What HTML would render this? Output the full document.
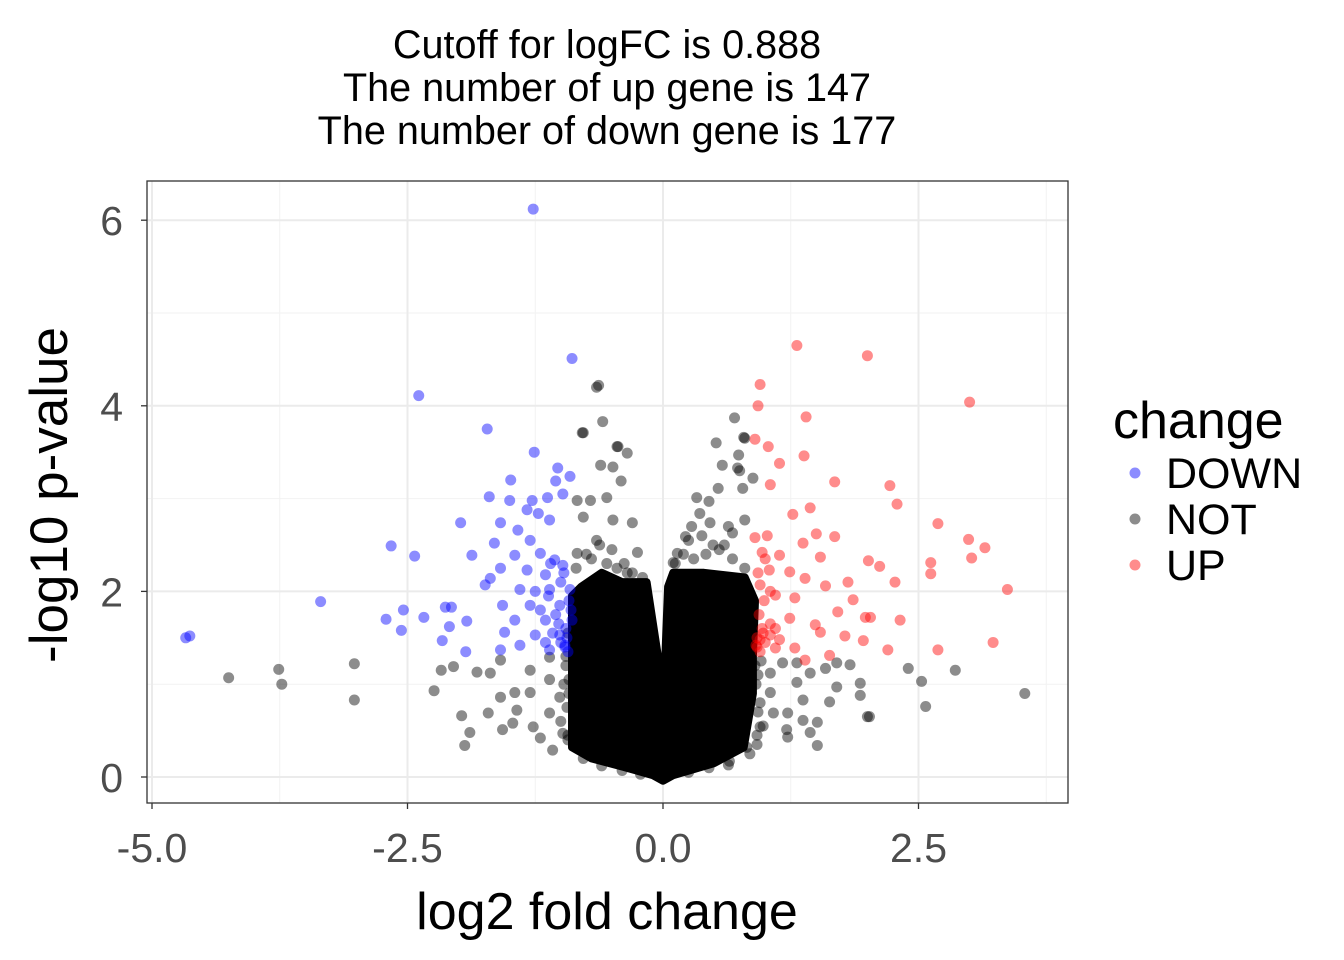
<!DOCTYPE html>
<html><head><meta charset="utf-8"><style>
html,body{margin:0;padding:0;background:#fff;}
svg{display:block;font-family:"Liberation Sans",Arial,sans-serif;}
</style></head><body>
<svg id="chart" width="1344" height="960" viewBox="0 0 1344 960" xmlns="http://www.w3.org/2000/svg">
<rect width="1344" height="960" fill="#fff"/>
<g font-size="39.6" text-anchor="middle" fill="#000">
<text x="607" y="58">Cutoff for logFC is 0.888</text>
<text x="607" y="101">The number of up gene is 147</text>
<text x="607" y="144">The number of down gene is 177</text>
</g>
<g id="grid"></g>
<g id="core"></g>
<g id="pts"></g>
<rect x="147" y="181" width="921" height="622" fill="none" stroke="#333" stroke-width="1.3"/>
<g id="axes"></g>
<text x="607" y="929" font-size="52" text-anchor="middle">log2 fold change</text>
<text transform="translate(67,495) rotate(-90)" font-size="53" text-anchor="middle">-log10 p-value</text>
<g>
<text x="1113" y="438" font-size="52">change</text>
<g><circle cx="1135" cy="473" r="5.5" fill="#0000ff" fill-opacity="0.45"/><text x="1166" y="488" font-size="43">DOWN</text></g>
<g><circle cx="1135" cy="519" r="5.5" fill="#000" fill-opacity="0.45"/><text x="1166" y="534" font-size="43">NOT</text></g>
<g><circle cx="1135" cy="565" r="5.5" fill="#ff0000" fill-opacity="0.45"/><text x="1166" y="580" font-size="43">UP</text></g>
</g>
</svg>
<script>
const xTicks=[-5.0,-2.5,0.0,2.5];
const xTickLabels=["-5.0","-2.5","0.0","2.5"];
const xMinor=[-3.75,-1.25,1.25,3.75];
const yTicks=[0,2,4,6];
const yTickLabels=["0","2","4","6"];
const yMinor=[1,3,5];
const downX=[-1.27,-0.89,-2.39,-1.72,-1.26,-1.03,-0.91,-1.49,-1.05,-1.70,-1.50,-1.28,-1.13,-0.98,-1.33,-1.22,-1.11,-1.98,-1.59,-1.42,-1.65,-1.30,-2.66,-2.43,-1.87,-1.45,-1.20,-1.06,-1.59,-1.69,-1.33,-1.15,-0.98,-1.74,-1.40,-1.11,-0.91,-3.35,-2.13,-2.07,-1.57,-1.30,-1.01,-2.54,-2.34,-2.71,-1.92,-1.45,-1.15,-0.89,-2.56,-2.09,-1.55,-1.25,-1.01,-4.63,-4.67,-2.16,-1.40,-0.96,-1.93,-1.59,-1.11,-1.0,-0.95,-1.05,-0.92,-1.0,-1.08,-0.93,-1.15,-1.2,-1.25,-0.97,-1.1,-0.94,-1.02,-0.9,-1.12,-0.96];
const downY=[6.12,4.51,4.11,3.75,3.50,3.33,3.24,3.20,3.19,3.02,2.98,2.98,3.01,3.05,2.88,2.84,2.77,2.74,2.74,2.66,2.52,2.55,2.49,2.38,2.39,2.39,2.41,2.34,2.25,2.14,2.23,2.18,2.28,2.07,2.02,2.02,2.02,1.89,1.83,1.83,1.85,1.85,1.85,1.80,1.72,1.70,1.68,1.69,1.69,1.69,1.58,1.62,1.56,1.53,1.53,1.52,1.50,1.47,1.42,1.42,1.35,1.37,1.37,1.45,1.6,1.75,1.9,2.1,1.55,1.35,1.45,1.8,2.0,2.2,2.3,1.5,1.65,1.8,1.95,1.4];
const upX=[1.31,2.00,0.95,3.00,0.93,1.40,0.90,1.03,1.38,1.14,1.68,2.22,1.05,2.29,1.44,1.27,2.69,1.50,1.68,1.02,0.90,2.99,1.37,3.15,0.97,1.14,1.54,2.01,3.02,2.62,2.12,1.04,1.24,2.62,1.39,1.81,2.27,0.95,1.59,3.37,1.10,1.29,1.86,1.71,1.98,2.03,2.32,1.24,1.49,1.54,1.78,1.05,0.95,1.14,1.96,3.23,0.92,1.10,1.29,2.69,2.20,1.63,1.39,0.92,0.97,1.0,0.94,0.99,1.05,0.93,1.0,1.05,0.95,1.1,0.98,0.91];
const upY=[4.65,4.54,4.23,4.04,4.00,3.88,3.64,3.56,3.46,3.38,3.18,3.14,3.15,2.94,2.90,2.83,2.73,2.62,2.59,2.60,2.58,2.56,2.52,2.47,2.42,2.39,2.37,2.33,2.36,2.31,2.27,2.23,2.21,2.19,2.14,2.10,2.10,2.07,2.06,2.02,1.96,1.93,1.91,1.78,1.72,1.72,1.69,1.71,1.64,1.56,1.52,1.53,1.48,1.48,1.47,1.45,1.40,1.39,1.39,1.37,1.37,1.31,1.26,1.5,1.6,1.45,1.75,1.9,2.0,2.2,2.35,1.65,1.35,1.6,1.55,1.42];
const notX=[-0.63,-0.65,-0.79,-0.59,-0.45,-0.35,-0.61,-0.41,0.70,0.80,0.52,0.74,0.58,0.75,-4.25,-3.76,-3.73,-3.02,-3.02,-2.24,-2.17,-1.97,-1.94,3.54,2.86,2.57,2.53,2.40,2.02,1.93,1.51,0.64,
-0.78,-0.44,-0.49,-0.84,-0.71,-0.55,-0.78,-0.49,-0.30,-0.65,-0.25,-0.35,-0.84,0.79,0.73,0.88,0.54,0.33,0.45,0.78,0.36,0.46,0.28,0.80,0.22,0.64,0.14,0.10,0.49,0.68,0.17,
-1.59,-1.82,-1.69,-2.05,-1.59,-1.45,-1.30,-1.71,-1.89,-1.57,-1.47,-1.20,-1.11,-1.30,-1.11,-1.11,-1.27,-1.01,-1.08,-1.43,-0.98,
1.17,1.31,1.59,1.70,1.83,1.31,1.44,1.70,1.05,1.37,1.63,1.22,1.37,1.51,1.21,1.44,1.22,1.08,0.95,0.82,0.49,1.05,1.93,2.00,
-0.95,-0.92,-1.0,-0.93,-0.97,0.93,0.95,0.98,0.92,0.96,
-0.93,-0.94,-0.92,-0.95,-0.93,-0.85,-0.7,-0.55,-0.45,-0.3,-0.2,-0.75,-0.62,-0.5,-0.38,
0.92,0.93,0.91,0.9,0.12,0.2,0.3,0.42,0.55,0.68,0.8,0.25,0.38,0.6,
-0.78,-0.6,-0.4,-0.22,0.25,0.45,0.65,0.85,-0.12,-0.07,0.08];
const notY=[4.22,4.20,3.71,3.83,3.56,3.49,3.36,3.19,3.87,3.65,3.60,3.47,3.36,3.30,1.07,1.16,1.00,1.22,0.83,0.93,1.15,0.66,0.34,0.90,1.15,0.76,1.03,1.17,0.65,0.88,0.34,0.13,
3.71,3.56,3.34,2.98,2.98,3.01,2.80,2.77,2.74,2.55,2.42,2.20,2.41,3.66,3.33,3.22,3.11,3.01,2.97,3.11,2.84,2.74,2.70,2.77,2.59,2.70,2.41,2.31,2.50,2.63,2.12,
1.26,1.13,1.12,1.19,0.86,0.91,0.91,0.69,0.48,0.51,0.58,0.42,0.69,1.15,1.29,1.05,0.54,0.86,0.29,0.72,0.47,
1.23,1.23,1.17,1.23,1.21,1.02,1.12,0.97,0.91,0.83,0.81,0.69,0.61,0.59,0.51,0.48,0.43,0.69,0.54,0.32,0.18,1.12,1.01,0.65,
1.2,0.9,0.6,0.4,1.0,1.1,0.8,0.55,0.35,1.25,
0.45,0.75,1.05,1.3,1.55,2.25,2.35,2.3,2.25,2.2,2.15,2.4,2.5,2.45,2.3,
0.45,0.7,1.0,1.2,2.3,2.4,2.35,2.4,2.45,2.35,2.25,2.55,2.6,2.5,
0.2,0.12,0.07,0.03,0.05,0.1,0.17,0.25,1.5,1.0,1.6];
// dense NOT-region envelope (log2FC, -log10 p)
const coreX=[-0.89,-0.89,-0.7,-0.39,-0.1,0,0.1,0.5,0.79,0.88,0.88,0.90,0.8,0.4,0.1,0.05,0.02,-0.01,-0.05,-0.16,-0.4,-0.6,-0.8];
const coreY=[1.95,0.32,0.2,0.11,0.02,-0.04,0.02,0.15,0.32,0.9,1.3,1.9,2.15,2.2,2.2,2.05,1.2,0.83,1.3,2.1,2.1,2.2,2.05];

const X0=663,XS=102.2,Y0=777,YS=92.8;
const sx=v=>X0+v*XS, sy=v=>Y0-v*YS;
const NS="http://www.w3.org/2000/svg";
function mk(tag,attrs,parent){const e=document.createElementNS(NS,tag);for(const k in attrs)e.setAttribute(k,attrs[k]);parent.appendChild(e);return e;}
const grid=document.getElementById('grid'),axes=document.getElementById('axes');
xMinor.forEach(v=>{const l=mk('line',{x1:sx(v),x2:sx(v),y1:181,y2:803,stroke:'#f2f2f2','stroke-width':1},grid);

});
yMinor.forEach(v=>{const l=mk('line',{x1:147,x2:1068,y1:sy(v),y2:sy(v),stroke:'#f2f2f2','stroke-width':1},grid);

});
xTicks.forEach((v,i)=>{const l=mk('line',{x1:sx(v),x2:sx(v),y1:181,y2:803,stroke:'#ebebeb','stroke-width':2},grid);


const t=mk('line',{x1:sx(v),x2:sx(v),y1:803,y2:809,stroke:'#333','stroke-width':1.3},axes);


const tx=mk('text',{x:sx(v),y:862,'font-size':41,'text-anchor':'middle',fill:'#4d4d4d'},axes);tx.textContent=xTickLabels[i];

});
yTicks.forEach((v,i)=>{const l=mk('line',{x1:147,x2:1068,y1:sy(v),y2:sy(v),stroke:'#ebebeb','stroke-width':2},grid);


const t=mk('line',{x1:141,x2:147,y1:sy(v),y2:sy(v),stroke:'#333','stroke-width':1.3},axes);


const tx=mk('text',{x:123,y:sy(v)+15,'font-size':41,'text-anchor':'end',fill:'#4d4d4d'},axes);tx.textContent=yTickLabels[i];

});
const core=document.getElementById('core');
const pts=coreX.map((v,i)=>sx(v).toFixed(1)+','+sy(coreY[i]).toFixed(1)).join(' ');
const poly=mk('polygon',{points:pts,fill:'#000',stroke:'#000','stroke-width':8,'stroke-linejoin':'round'},core);


const pg=document.getElementById('pts');
function series(xs,ys,col,name){xs.forEach((v,i)=>{const c=mk('circle',{cx:sx(v),cy:sy(ys[i]),r:5.5,fill:col,'fill-opacity':0.45},pg);

});}
series(notX,notY,'#000','point-not');
series(downX,downY,'#0000ff','point-down');
series(upX,upY,'#ff0000','point-up');
</script>
</body></html>
